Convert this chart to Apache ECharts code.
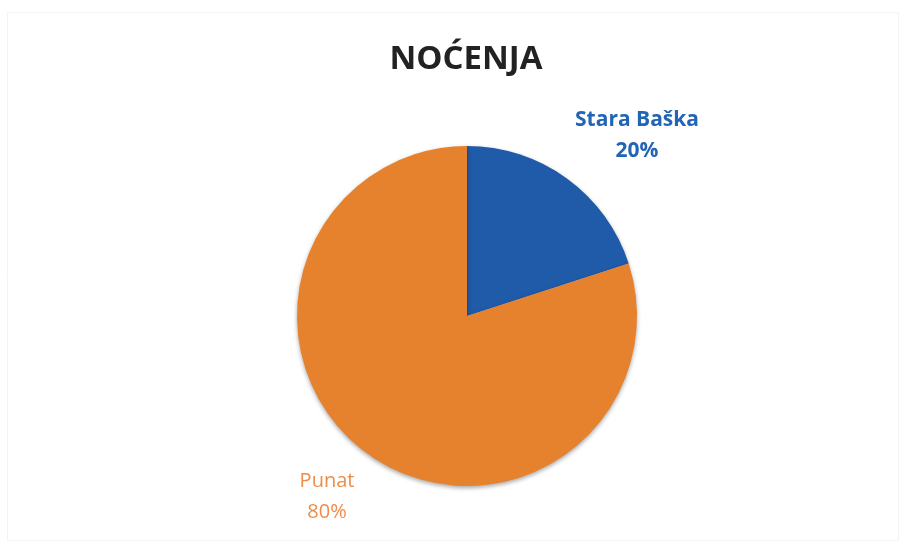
<!DOCTYPE html>
<html>
<head>
<meta charset="utf-8">
<script src="https://cdn.jsdelivr.net/npm/echarts@6/dist/echarts.min.js"></script>
<style>
html, body { margin: 0; padding: 0; background: #fff; }
#chart { width: 910px; height: 554px; }
</style>
</head>
<body>
<div id="chart"></div>
<script>
// podaci
var categories = ['Stara Baška', 'Punat'];
var values = [20, 80];
var colors = ['#1f5ba8', '#e6812e'];
var labelColors = ['#2265b4', '#ef8c48'];

// položaj oznaka (centar teksta)
var labelPos = [[637, 136], [327, 497]];

var myChart = echarts.init(document.getElementById('chart'));

var option = {
    backgroundColor: '#fff',
    title: {
        text: 'NOĆENJA',
        left: 461,
        textAlign: 'center',
        top: 38,
        textStyle: {
            fontFamily: 'Open Sans',
            fontWeight: 'bold',
            fontSize: 33,
            color: '#222'
        }
    },
    graphic: [{
        type: 'rect',
        shape: { x: 7.5, y: 12.5, width: 891, height: 528 },
        style: { fill: 'none', stroke: '#f3f3f3', lineWidth: 1 },
        silent: true
    }],
    series: [{
        type: 'pie',
        center: [467, 316],
        radius: [0, 170],
        startAngle: 90,
        clockwise: true,
        animation: false,
        itemStyle: {
            borderWidth: 0,
            shadowBlur: 4,
            shadowOffsetY: 2,
            shadowColor: 'rgba(0,0,0,0.35)'
        },
        label: {
            show: true,
            position: 'outside',
            fontFamily: 'Open Sans',
            lineHeight: 31,
            formatter: function (p) { return p.name + '\n' + p.value + '%'; }
        },
        labelLine: { show: false },
        labelLayout: function (p) {
            var pos = labelPos[p.dataIndex];
            return { x: pos[0], y: pos[1], align: 'center', verticalAlign: 'middle' };
        },
        data: categories.map(function (name, i) {
            return {
                name: name,
                value: values[i],
                itemStyle: { color: colors[i] },
                label: {
                    color: labelColors[i],
                    fontSize: i === 0 ? 21 : 20,
                    fontWeight: i === 0 ? 'bold' : 'normal'
                }
            };
        })
    }]
};

myChart.setOption(option);
</script>
</body>
</html>
